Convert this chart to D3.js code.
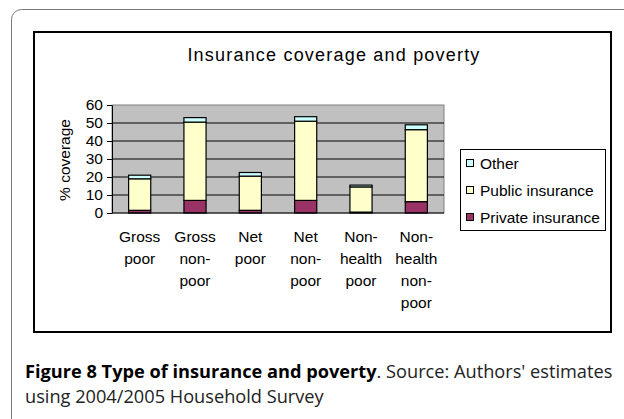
<!DOCTYPE html>
<html>
<head>
<meta charset="utf-8">
<script src="https://cdn.jsdelivr.net/npm/d3@7"></script>
<style>
  body { margin: 0; background: #fff; }
  svg { display: block; }
</style>
</head>
<body>
<svg width="624" height="419"></svg>
<script>
// chart data
const categories = ["Gross poor", "Gross non-poor", "Net poor", "Net non-poor", "Non-health poor", "Non-health non-poor"];
const categoryLines = [["Gross", "poor"], ["Gross", "non-", "poor"], ["Net", "poor"], ["Net", "non-", "poor"], ["Non-", "health", "poor"], ["Non-", "health", "non-", "poor"]];
const privateIns = [1.5, 7, 1.5, 7, 0.5, 6.3];
const publicIns = [17.5, 43.5, 19, 44, 14, 40];
const otherIns = [2, 2.5, 2, 2.5, 1, 2.7];
const seriesNames = ["Private insurance", "Public insurance", "Other"];
const yTicks = [0, 10, 20, 30, 40, 50, 60];

function drawChart() {
  const svg = d3.select("svg");
  const colors = {"Private insurance": "#993366", "Public insurance": "#ffffcc", "Other": "#ccffff"};
  const labelFont = "15.5px 'Liberation Sans', Arial, sans-serif";

  // outer rounded frame (page panel)
  svg.append("rect")
    .attr("x", 11.5).attr("y", 9.5)
    .attr("width", 660).attr("height", 460)
    .attr("rx", 10)
    .attr("fill", "none")
    .attr("stroke", "#777");

  // chart frame
  svg.append("rect")
    .attr("x", 34).attr("y", 32)
    .attr("width", 577).attr("height", 300)
    .attr("fill", "#fff")
    .attr("stroke", "#000")
    .attr("stroke-width", 2);

  svg.append("text")
    .attr("x", 334).attr("y", 61)
    .attr("text-anchor", "middle")
    .style("font", "18px 'Liberation Sans', Arial, sans-serif")
    .style("letter-spacing", "1.2px")
    .text("Insurance coverage and poverty");

  let table = categories.map((c, i) => ({
    cat: c,
    "Private insurance": privateIns[i],
    "Public insurance": publicIns[i],
    "Other": otherIns[i]
  }));

  let xScale = d3.scaleBand().domain(categories).range([112, 444]).paddingInner(0.6).paddingOuter(0.3);
  let yScale = d3.scaleLinear().domain([0, 60]).range([213, 105]);

  // plot background
  svg.append("rect")
    .attr("x", 112).attr("y", 105)
    .attr("width", 332).attr("height", 108)
    .attr("fill", "#c0c0c0")
    .attr("stroke", "#808080");

  // gridlines
  svg.append("g").selectAll("line")
    .data(yTicks.slice(1, -1))
    .join("line")
    .attr("x1", 112).attr("x2", 444)
    .attr("y1", d => yScale(d)).attr("y2", d => yScale(d))
    .attr("stroke", "#000");

  // stacked bars
  let stacked = d3.stack().keys(seriesNames)(table);
  svg.append("g").selectAll("g.series")
    .data(stacked)
    .join("g")
    .attr("class", "series")
    .attr("fill", d => colors[d.key])
    .selectAll("rect")
    .data(d => d)
    .join("rect")
    .attr("x", d => xScale(d.data.cat))
    .attr("width", xScale.bandwidth())
    .attr("y", d => yScale(d[1]))
    .attr("height", d => yScale(d[0]) - yScale(d[1]))
    .attr("stroke", "#000")
    .attr("stroke-width", 1.2);

  // y axis
  let yAxis = d3.axisLeft(yScale).tickValues(yTicks).tickSizeInner(5).tickSizeOuter(0).tickPadding(4);
  let yG = svg.append("g").attr("transform", "translate(112,0)").call(yAxis);
  yG.select(".domain").attr("stroke", "#000");
  yG.selectAll("text")
    .attr("fill", "#000")
    .style("font", labelFont);

  // x axis line
  svg.append("line")
    .attr("x1", 112).attr("x2", 444)
    .attr("y1", 213).attr("y2", 213)
    .attr("stroke", "#000");

  // x labels, multi-line
  svg.append("g").selectAll("text")
    .data(categories)
    .join("text")
    .attr("text-anchor", "middle")
    .style("font", labelFont)
    .each(function (d, i) {
      d3.select(this).selectAll("tspan")
        .data(categoryLines[i])
        .join("tspan")
        .attr("x", xScale(d) + xScale.bandwidth() / 2)
        .attr("y", (t, j) => 242 + j * 22)
        .text(t => t);
    });

  // y axis title
  svg.append("text")
    .attr("transform", "translate(70,160) rotate(-90)")
    .attr("text-anchor", "middle")
    .style("font", labelFont)
    .text("% coverage");

  // legend
  svg.append("rect")
    .attr("x", 460.5).attr("y", 149.5)
    .attr("width", 145).attr("height", 81)
    .attr("fill", "#fff")
    .attr("stroke", "#000");

  let legendOrder = ["Other", "Public insurance", "Private insurance"];
  let legend = svg.append("g").selectAll("g")
    .data(legendOrder)
    .join("g")
    .attr("transform", (d, i) => `translate(466, ${163 + i * 27})`);
  legend.append("rect")
    .attr("x", 0.5).attr("y", -3.5)
    .attr("width", 7).attr("height", 7)
    .attr("fill", d => colors[d])
    .attr("stroke", "#000");
  legend.append("text")
    .attr("x", 14).attr("y", 5.5)
    .style("font", labelFont)
    .text(d => d);

  // caption
  const capFont = "18.2px 'Open Sans', 'Noto Sans', sans-serif";
  let cap = svg.append("text")
    .attr("x", 25).attr("y", 378)
    .style("font", capFont)
    .attr("fill", "#222");
  cap.append("tspan").attr("font-weight", "bold").attr("fill", "#000").text("Figure 8 Type of insurance and poverty");
  cap.append("tspan").text(". Source: Authors' estimates");
  svg.append("text")
    .attr("x", 25).attr("y", 403)
    .style("font", capFont)
    .attr("fill", "#222")
    .text("using 2004/2005 Household Survey");
}

drawChart();
</script>
</body>
</html>
